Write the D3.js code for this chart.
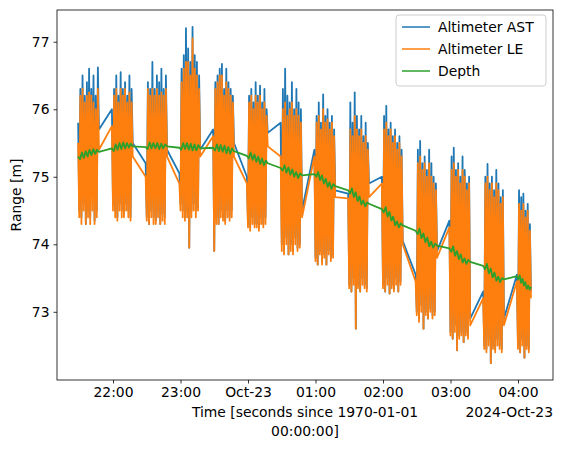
<!DOCTYPE html>
<html><head><meta charset="utf-8">
<script src="https://cdn.jsdelivr.net/npm/d3@7"></script>
<style>body{margin:0;background:#fff}text{font-family:"DejaVu Sans",sans-serif}</style>
</head><body><div id="chart"></div>
<script>
// burst start (minutes relative to 2024-10-22 22:00 UTC) and duration (minutes)
var burstStart = [-31, -1, 29, 59, 89, 119, 149, 179, 209, 239, 269, 299, 329, 359];
var burstDur = [18.5, 18.5, 19, 18.5, 18.5, 18.5, 19, 18.5, 18.5, 18.5, 19, 18.5, 18.5, 12.5];

var ast = [
 [75.8,74.5,76.3,74.4,76.5,74.6,76.2,74.3,76.4,74.5,76.6,74.4,76.3,74.7,76.5,74.35,76.2,74.5,76.62,75.7],
 [76.0,74.6,76.3,74.5,76.5,74.4,76.2,74.6,76.55,74.5,76.3,74.45,76.4,74.6,76.2,74.5,76.5,74.4,76.3,75.5],
 [75.2,74.4,76.4,74.3,76.3,74.5,76.7,74.4,76.3,74.35,76.5,74.5,76.4,74.3,76.6,74.45,76.3,74.4,76.5,75.4],
 [75.05,74.6,76.6,74.5,76.8,74.4,77.2,74.5,76.9,73.95,76.7,74.5,77.22,74.6,76.8,74.5,76.7,74.55,76.5,75.4],
 [75.7,73.9,76.4,74.4,76.5,74.3,76.6,74.5,76.67,74.4,76.3,74.35,76.6,74.5,76.4,74.4,76.3,74.5,76.2,75.5],
 [75.0,74.3,76.2,74.25,76.3,74.4,76.1,74.3,76.4,74.3,76.2,74.25,76.35,74.4,76.1,74.3,76.3,74.4,76.0,75.65],
 [75.8,74.0,76.3,73.9,76.6,74.1,76.2,73.85,76.1,74.0,76.4,73.9,76.0,74.1,76.3,73.95,76.1,74.0,76.0,74.5],
 [75.4,73.8,75.9,73.7,76.1,73.9,75.8,73.75,76.22,73.85,75.9,73.7,76.0,73.9,75.8,73.8,75.9,73.85,75.7,74.8],
 [74.75,73.4,76.1,73.3,75.8,73.5,76.25,72.75,75.9,73.4,75.7,73.3,75.9,73.5,75.6,73.4,75.8,73.35,75.5,74.9],
 [75.0,73.4,75.9,73.3,76.05,73.5,75.7,73.27,75.8,73.4,75.6,73.35,75.7,73.5,75.5,73.3,75.6,73.45,75.4,74.05],
 [73.55,73.0,75.4,72.9,75.53,73.1,75.2,72.75,75.3,73.0,75.1,72.9,75.4,73.05,75.2,72.95,75.0,73.0,74.9,73.9],
 [74.35,72.7,75.3,72.6,75.43,72.8,75.1,72.43,75.2,72.65,75.0,72.7,75.3,72.55,75.1,72.7,74.9,72.65,75.0,72.9],
 [73.3,72.5,75.0,72.45,75.19,72.6,74.9,72.24,75.0,72.5,74.8,72.45,75.1,72.6,74.9,72.5,74.7,72.45,74.8,72.9],
 [73.55,72.5,74.8,72.4,74.7,72.6,74.75,72.32,74.5,72.5,74.6,72.45,74.3,73.3]
];
var le = [
 [75.5,74.4,76.2,74.3,76.3,74.5,76.1,74.3,76.2,74.4,76.25,74.3,76.2,74.5,76.1,74.3,76.0,74.4,76.3,75.4],
 [75.75,74.5,76.2,74.4,76.3,74.35,76.1,74.5,76.3,74.4,76.2,74.4,76.3,74.5,76.1,74.4,76.25,74.35,76.1,75.3],
 [75.0,74.35,76.3,74.3,76.2,74.4,76.3,74.3,76.2,74.3,76.3,74.4,76.2,74.3,76.25,74.35,76.2,74.3,76.3,75.3],
 [74.9,74.5,76.4,74.4,76.6,74.35,76.7,74.4,76.7,73.95,76.5,74.4,77.05,74.5,76.6,74.4,76.5,74.5,76.3,75.3],
 [75.6,73.9,76.3,74.3,76.4,74.3,76.5,74.4,76.5,74.35,76.2,74.3,76.4,74.4,76.3,74.35,76.2,74.4,76.1,75.3],
 [74.9,74.25,76.1,74.2,76.2,74.3,76.0,74.25,76.2,74.25,76.1,74.2,76.2,74.3,76.0,74.25,76.1,74.3,75.9,75.45],
 [75.3,73.9,76.0,73.85,76.1,74.0,75.9,73.85,76.0,73.9,76.1,73.85,75.9,74.0,76.0,73.9,75.9,73.95,75.8,74.4],
 [75.3,73.75,75.8,73.7,75.9,73.85,75.7,73.7,76.0,73.8,75.8,73.7,75.85,73.85,75.7,73.75,75.8,73.8,75.6,74.7],
 [74.68,73.35,75.7,73.3,75.6,73.4,75.9,72.75,75.7,73.35,75.6,73.3,75.7,73.4,75.5,73.35,75.6,73.3,75.4,74.7],
 [74.9,73.35,75.7,73.3,75.8,73.4,75.6,73.27,75.7,73.35,75.5,73.3,75.6,73.4,75.4,73.3,75.5,73.4,75.3,74.0],
 [73.45,72.95,75.2,72.85,75.3,73.0,75.1,72.75,75.2,72.95,75.0,72.9,75.2,73.0,75.0,72.9,74.9,72.95,74.8,73.8],
 [74.25,72.65,75.1,72.6,75.2,72.7,75.0,72.43,75.1,72.6,74.9,72.65,75.1,72.55,75.0,72.65,74.8,72.6,74.9,72.8],
 [73.2,72.45,74.9,72.4,75.0,72.5,74.8,72.24,74.9,72.45,74.7,72.4,74.9,72.5,74.8,72.45,74.6,72.4,74.7,72.8],
 [73.45,72.45,74.6,72.4,74.5,72.5,74.6,72.32,74.4,72.45,74.5,72.4,74.2,73.2]
];
var depth = [
 [75.3,75.26,75.36,75.28,75.38,75.3,75.4,75.32,75.41,75.34,75.4,75.37],
 [75.42,75.38,75.48,75.4,75.5,75.41,75.51,75.42,75.5,75.43,75.49,75.45],
 [75.44,75.41,75.51,75.42,75.5,75.42,75.5,75.41,75.49,75.42,75.48,75.45],
 [75.43,75.4,75.5,75.41,75.5,75.4,75.49,75.39,75.48,75.39,75.47,75.42],
 [75.43,75.39,75.48,75.38,75.47,75.37,75.46,75.35,75.44,75.34,75.42,75.38],
 [75.31,75.27,75.36,75.25,75.33,75.22,75.3,75.19,75.27,75.17,75.24,75.2],
 [75.13,75.09,75.17,75.06,75.14,75.03,75.11,75.0,75.07,74.98,75.05,75.02],
 [75.04,75.0,75.07,74.95,75.02,74.9,74.97,74.85,74.92,74.82,74.89,74.86],
 [74.8,74.75,74.83,74.7,74.77,74.64,74.71,74.59,74.65,74.56,74.62,74.6],
 [74.52,74.47,74.55,74.41,74.48,74.35,74.41,74.28,74.34,74.25,74.31,74.28],
 [74.2,74.15,74.23,74.09,74.16,74.03,74.1,73.97,74.04,73.95,74.01,73.98],
 [73.94,73.89,73.97,73.83,73.9,73.78,73.85,73.73,73.79,73.71,73.77,73.74],
 [73.68,73.63,73.71,73.57,73.64,73.51,73.58,73.46,73.52,73.44,73.5,73.48],
 [73.53,73.48,73.54,73.43,73.49,73.39,73.44,73.34,73.39,73.33,73.37]
];
var yTicks = [73, 74, 75, 76, 77];
var series = [
  {name: 'Altimeter AST', color: '#1f77b4', data: ast},
  {name: 'Altimeter LE', color: '#ff7f0e', data: le},
  {name: 'Depth', color: '#2ca02c', data: depth}
];

var base = Date.UTC(2024, 9, 22, 22, 0);
function toPoints(bursts) {
  var pts = [];
  bursts.forEach(function(b, k) {
    b.forEach(function(v, i) {
      pts.push({t: new Date(base + (burstStart[k] + burstDur[k] * i / (b.length - 1)) * 60000), v: v});
    });
  });
  return pts;
}

var W = 563, H = 449, m = {l: 57, r: 10, t: 10, b: 69};
var fs = 13.9;
var svg = d3.select('#chart').append('svg').attr('width', W).attr('height', H);

var x = d3.scaleUtc()
  .domain([new Date(base - 49.8 * 60000), new Date(base + 391.1 * 60000)])
  .range([m.l, W - m.r]);
var y = d3.scaleLinear().domain([71.99, 77.47]).range([H - m.b, m.t]);

var line = d3.line().x(function(d){ return x(d.t); }).y(function(d){ return y(d.v); });
var plot = svg.append('g');
series.forEach(function(s) {
  plot.append('path').datum(toPoints(s.data))
    .attr('fill', 'none').attr('stroke', s.color).attr('stroke-width', 1.8)
    .attr('stroke-linejoin', 'round').attr('d', line);
});

var fmt = function(d) {
  return d.getUTCHours() === 0 ? 'Oct-23' : d3.utcFormat('%H:%M')(d);
};
function style(g) {
  g.select('.domain').remove();
  g.selectAll('text').attr('font-size', fs).attr('fill', '#000');
  g.selectAll('line').attr('stroke-width', 0.8);
}
svg.append('g').attr('transform', 'translate(0,' + (H - m.b) + ')')
  .call(d3.axisBottom(x).ticks(d3.utcHour.every(1)).tickFormat(fmt).tickSizeOuter(0).tickSize(3.5).tickPadding(4))
  .call(style);
svg.append('g').attr('transform', 'translate(' + m.l + ',0)')
  .call(d3.axisLeft(y).tickValues(yTicks).tickFormat(d3.format('d')).tickSize(3.5).tickPadding(4))
  .call(style);

svg.append('rect').attr('x', m.l).attr('y', m.t).attr('width', W - m.l - m.r).attr('height', H - m.t - m.b)
  .attr('fill', 'none').attr('stroke', '#000').attr('stroke-width', 0.8);

svg.append('text').attr('x', W - m.r).attr('y', 417).attr('text-anchor', 'end').attr('font-size', fs).text('2024-Oct-23');
svg.append('text').attr('x', (m.l + W - m.r) / 2).attr('y', 417).attr('text-anchor', 'middle').attr('font-size', fs).text('Time [seconds since 1970-01-01');
svg.append('text').attr('x', (m.l + W - m.r) / 2).attr('y', 436).attr('text-anchor', 'middle').attr('font-size', fs).text('00:00:00]');
svg.append('text').attr('transform', 'translate(21,' + ((m.t + H - m.b) / 2) + ') rotate(-90)')
  .attr('text-anchor', 'middle').attr('font-size', fs).text('Range [m]');

var lg = svg.append('g').attr('transform', 'translate(396,15)');
lg.append('rect').attr('width', 150).attr('height', 71).attr('rx', 3)
  .attr('fill', '#fff').attr('fill-opacity', 0.8).attr('stroke', '#ccc');
series.forEach(function(s, i) {
  lg.append('line').attr('x1', 6).attr('x2', 34).attr('y1', 12 + i * 22).attr('y2', 12 + i * 22)
    .attr('stroke', s.color).attr('stroke-width', 1.5);
  lg.append('text').attr('x', 42).attr('y', 17 + i * 22).attr('font-size', fs).text(s.name);
});
</script></body></html>
